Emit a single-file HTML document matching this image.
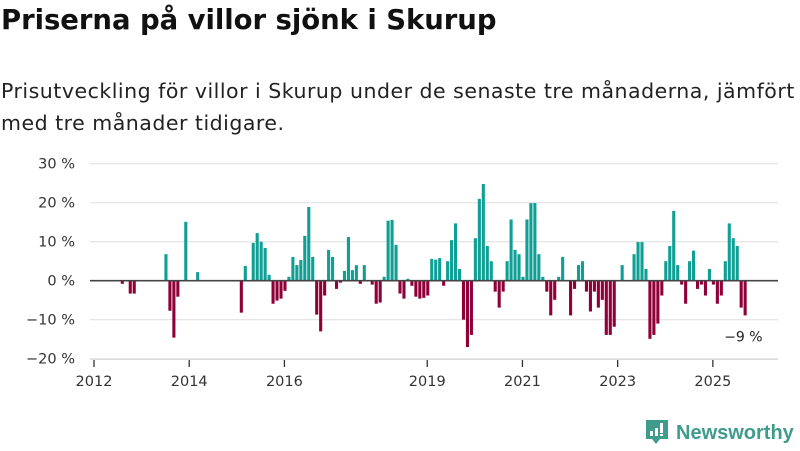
<!DOCTYPE html>
<html><head><meta charset="utf-8">
<style>
body{margin:0;background:#fff;width:800px;height:450px;overflow:hidden;font-family:"DejaVu Sans",sans-serif;}
#title{position:absolute;left:1px;top:4px;font-size:27.5px;font-weight:bold;color:#111;margin:0;white-space:nowrap;letter-spacing:-0.05px;}
#sub{position:absolute;left:1px;top:75px;font-size:20.5px;line-height:32px;color:#222;width:800px;white-space:nowrap;letter-spacing:0.5px;}
#logo{position:absolute;left:645px;top:419px;}
</style></head><body>
<h1 id="title">Priserna på villor sjönk i Skurup</h1>
<div id="sub">Prisutveckling för villor i Skurup under de senaste tre månaderna, jämfört<br>med tre månader tidigare.</div>
<svg id="chart" width="800" height="450" style="position:absolute;left:0;top:0"></svg>
<div id="logo">
<svg width="155" height="28">
<path d="M1 1h22v19h-8l-4 5-4-5H1z" fill="#3f9c8c"/>
<rect x="5" y="12" width="3" height="5" fill="#fff"/><rect x="10" y="9" width="3" height="8" fill="#fff"/><rect x="15" y="4" width="3" height="10" fill="#fff"/><rect x="15" y="15" width="3" height="2" fill="#fff"/>
<text x="31" y="20" font-family="Liberation Sans, sans-serif" font-size="20" font-weight="bold" fill="#3f9c8c">Newsworthy</text>
</svg></div>
<script>
const startYear = 2012;
const yTicks = [30, 20, 10, 0, -10, -20];
const yTickLabels = ["30 %","20 %","10 %","0 %","−10 %","−20 %"];
const xTickYears = [2012, 2014, 2016, 2019, 2021, 2023, 2025];
const values = [
null,null,null,null,null,null,null,-0.8,null,-3.3,-3.3,null,
null,null,null,null,null,null,6.8,-7.7,-14.6,-4.1,null,15.1,
null,null,2.2,null,null,null,null,null,null,null,null,null,
null,-8.2,3.8,null,9.7,12.2,10,8.4,1.5,-5.9,-5.1,-4.6,
-2.6,1.0,6.1,4.0,5.3,11.5,18.9,6.1,-8.7,-13,-3.8,7.9,
6.1,-2.1,-0.5,2.5,11.2,2.7,4.0,-0.8,4.0,null,-1,-5.9,
-5.6,1.0,15.4,15.6,9.2,-3.3,-4.6,0.5,-1.3,-4.1,-4.6,-4.4,
-3.8,5.6,5.4,5.8,-1.3,5.0,10.4,14.7,3.0,-10,-17,-13.9,
10.9,21,24.8,8.9,5.0,-2.8,-6.9,-2.8,5.0,15.7,7.9,6.8,
1.0,15.7,19.9,19.9,6.8,1.0,-2.8,-8.9,-4.9,1.0,6.1,null,
-8.9,-2.1,4.0,5.0,-2.8,-7.9,-2.8,-6.9,-4.9,-13.9,-13.9,-11.8,
null,4.0,null,null,6.8,9.9,9.9,3.0,-14.9,-13.9,-11,-3.8,
5.0,8.9,17.9,4.0,-1,-5.9,5.0,7.7,-2.1,-1,-3.8,3.0,
-1,-5.9,-3.8,5.0,14.7,10.9,8.9,-6.9,-8.9
];
const lastLabel = "−9 %";

const NS="http://www.w3.org/2000/svg";
const svg=document.getElementById('chart');
const x0=94, pxPerMonth=3.967, yZero=280.7, pxPerPct=3.9;
function xMonth(i){return x0+i*pxPerMonth;}
function xYear(yr){return xMonth((yr-startYear)*12);}
function yVal(v){return yZero - v*pxPerPct;}
function mk(tag,attrs){const e=document.createElementNS(NS,tag);for(const k in attrs)e.setAttribute(k,attrs[k]);svg.appendChild(e);return e;}

yTicks.forEach((t,i)=>{
  if(t!==0){const g=mk('line',{x1:90,x2:778,y1:yVal(t),y2:yVal(t),stroke:'#ddd','stroke-width':1});
  
  }
  const l=mk('text',{x:75,y:yVal(t)+5,'text-anchor':'end','font-size':14.5,fill:'#333','font-family':'DejaVu Sans, sans-serif'});
  l.textContent=yTickLabels[i];
  
  
});
const bl=mk('line',{x1:90,x2:778,y1:359.5,y2:359.5,stroke:'#ddd','stroke-width':1});


xTickYears.forEach(yr=>{
  const x=xYear(yr);
  const t=mk('line',{x1:x,x2:x,y1:360,y2:367,stroke:'#333','stroke-width':1.3});
  
  
  const l=mk('text',{x:x,y:386,'text-anchor':'middle','font-size':14.5,fill:'#333','font-family':'DejaVu Sans, sans-serif'});
  l.textContent=String(yr);
  
  
});
values.forEach((v,i)=>{
  if(v===null)return;
  const y1=yVal(Math.max(v,0)), y2=yVal(Math.min(v,0));
  const r=mk('rect',{x:xMonth(i)-1,y:y1,width:3.1,height:Math.max(y2-y1,0.5),fill:v>=0?'#0f9f94':'#8f0039'});
  
  
});
const zl=mk('line',{x1:90,x2:778,y1:yZero,y2:yZero,stroke:'#444','stroke-width':1.6});


const li=values.length-1;
const lt=mk('text',{x:xMonth(li)+18,y:yVal(values[li])+26,'text-anchor':'end','font-size':14,fill:'#222','font-family':'DejaVu Sans, sans-serif'});
lt.textContent=lastLabel;


</script>
</body></html>
